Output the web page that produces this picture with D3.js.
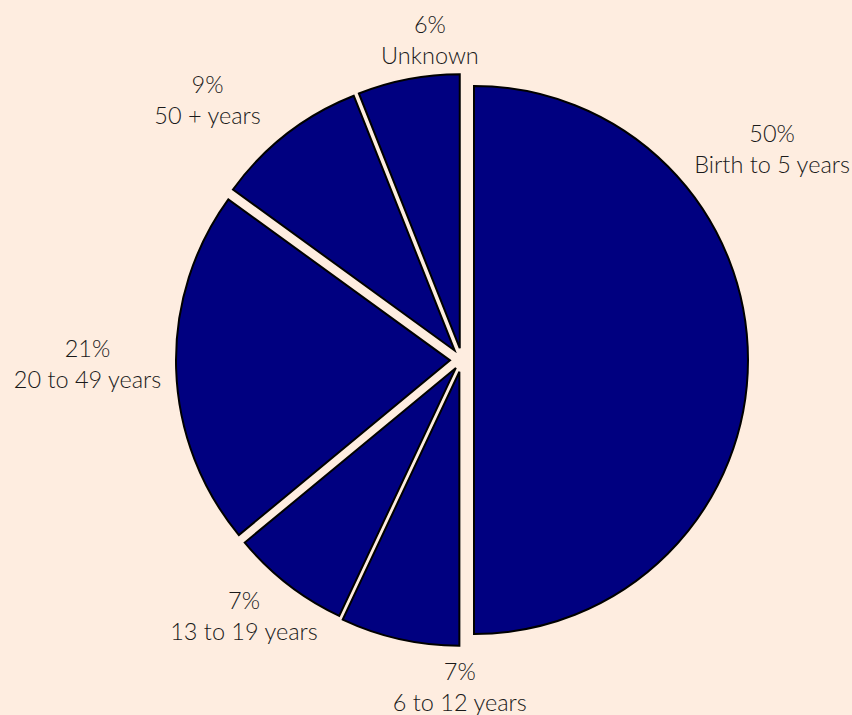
<!DOCTYPE html>
<html>
<head>
<meta charset="utf-8">
<script src="https://cdn.jsdelivr.net/npm/d3@7"></script>
<style>
  body { margin: 0; background: #feede0; }
  svg { display: block; }
  text { font-family: Lato, "Open Sans", sans-serif; font-weight: 300; fill: #1a1a1a; }
</style>
</head>
<body>
<div id="chart"></div>
<script>
// data, clockwise from 12 o'clock
const categories = ["Birth to 5 years", "6 to 12 years", "13 to 19 years", "20 to 49 years", "50 + years", "Unknown"];
const shares = [50, 7, 7, 21, 9, 6];

// layout bits (not data)
const explode = [12, 12, 10, 12, 12, 12];          // px each slice is pulled out
const labelAngle = [54.9, 180.4, 221.2, 270.5, 316.4, 354.4]; // deg, clockwise from top
const labelRadius = [379, 320, 331, 374.5, 369, 328.6];

const width = 852, height = 715;
const cx = 462, cy = 360, radius = 274;

const svg = d3.select("#chart").append("svg")
    .attr("width", width)
    .attr("height", height);

const rows = categories.map((c, i) => ({name: c, value: shares[i], i: i}));

const pie = d3.pie()
    .sort(null)
    .value(d => d.value);

const arc = d3.arc()
    .innerRadius(0)
    .outerRadius(radius);

const arcs = pie(rows);

const g = svg.append("g")
    .attr("transform", `translate(${cx},${cy})`);

g.selectAll("path")
  .data(arcs)
  .join("path")
    .attr("d", arc)
    .attr("fill", "#000080")
    .attr("stroke", "#000")
    .attr("stroke-width", 2)
    .attr("stroke-linejoin", "miter")
    .attr("transform", d => {
      const mid = (d.startAngle + d.endAngle) / 2;
      const o = explode[d.data.i];
      return `translate(${Math.sin(mid) * o},${-Math.cos(mid) * o})`;
    });

const labels = g.selectAll("g.lab")
  .data(arcs)
  .join("g")
    .attr("class", "lab")
    .attr("transform", d => {
      const a = labelAngle[d.data.i] * Math.PI / 180;
      const r = labelRadius[d.data.i];
      return `translate(${Math.sin(a) * r},${-Math.cos(a) * r})`;
    });

labels.append("text")
    .attr("text-anchor", "middle")
    .attr("font-size", 23.5)
    .text(d => d.data.value + "%");

labels.append("text")
    .attr("text-anchor", "middle")
    .attr("font-size", 23.5)
    .attr("y", 31)
    .text(d => d.data.name);
</script>
</body>
</html>
